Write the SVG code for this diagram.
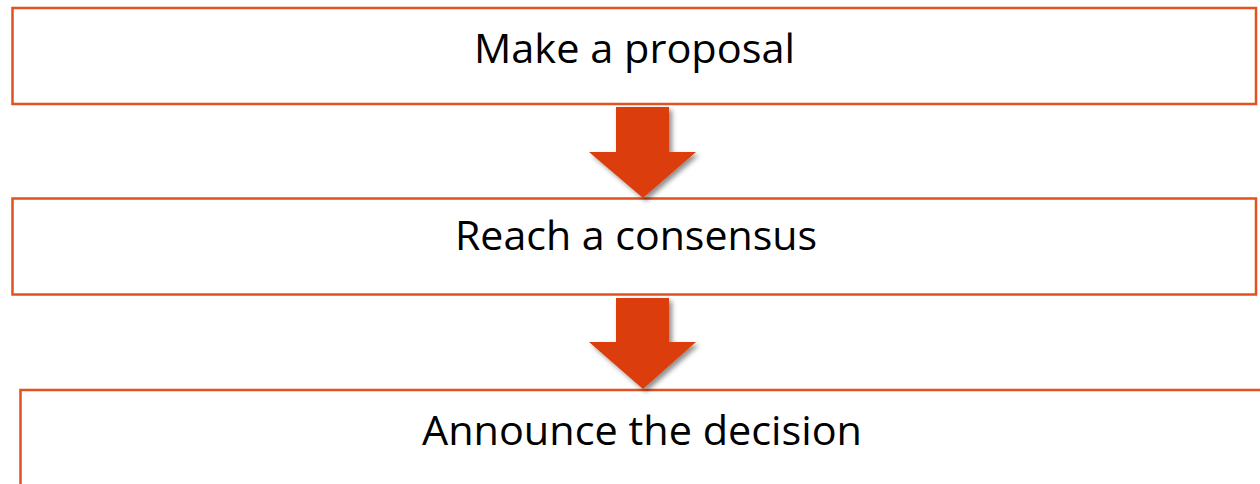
<svg xmlns="http://www.w3.org/2000/svg" width="1260" height="484" viewBox="0 0 1260 484">
  <style>
    .box { fill: #ffffff; stroke: #e0521f; stroke-width: 2.5; }
    .lbl { font-family: "Open Sans", "Liberation Sans", sans-serif; font-size: 41px; fill: #000000; text-anchor: middle; }
    .arrow { fill: #dc3d0a; }
  </style>
  <defs>
    <filter id="shadow" x="-20%" y="-20%" width="150%" height="150%">
      <feDropShadow dx="3" dy="3" stdDeviation="2.5" flood-color="#000000" flood-opacity="0.45"/>
    </filter>
  </defs>
  <rect width="1260" height="484" fill="#ffffff"/>
  <g id="node-proposal">
    <rect class="box" x="12.5" y="8" width="1243.5" height="96"/>
    <text class="lbl" x="634.5" y="63" textLength="321" lengthAdjust="spacingAndGlyphs">Make a proposal</text>
  </g>
  <g id="node-consensus">
    <rect class="box" x="12.5" y="198.5" width="1243.5" height="96"/>
    <text class="lbl" x="636" y="250" textLength="362" lengthAdjust="spacingAndGlyphs">Reach a consensus</text>
  </g>
  <g id="node-announce">
    <rect class="box" x="20.5" y="390" width="1260" height="120"/>
    <text class="lbl" x="642" y="445" textLength="440" lengthAdjust="spacingAndGlyphs">Announce the decision</text>
  </g>
  <g id="connectors">
    <polygon class="arrow" filter="url(#shadow)" points="616,107 669,107 669,152 696,152 643,198 589,152 616,152"/>
    <polygon class="arrow" filter="url(#shadow)" points="616,298 669,298 669,342 696,342 643,389 589,342 616,342"/>
  </g>
</svg>
